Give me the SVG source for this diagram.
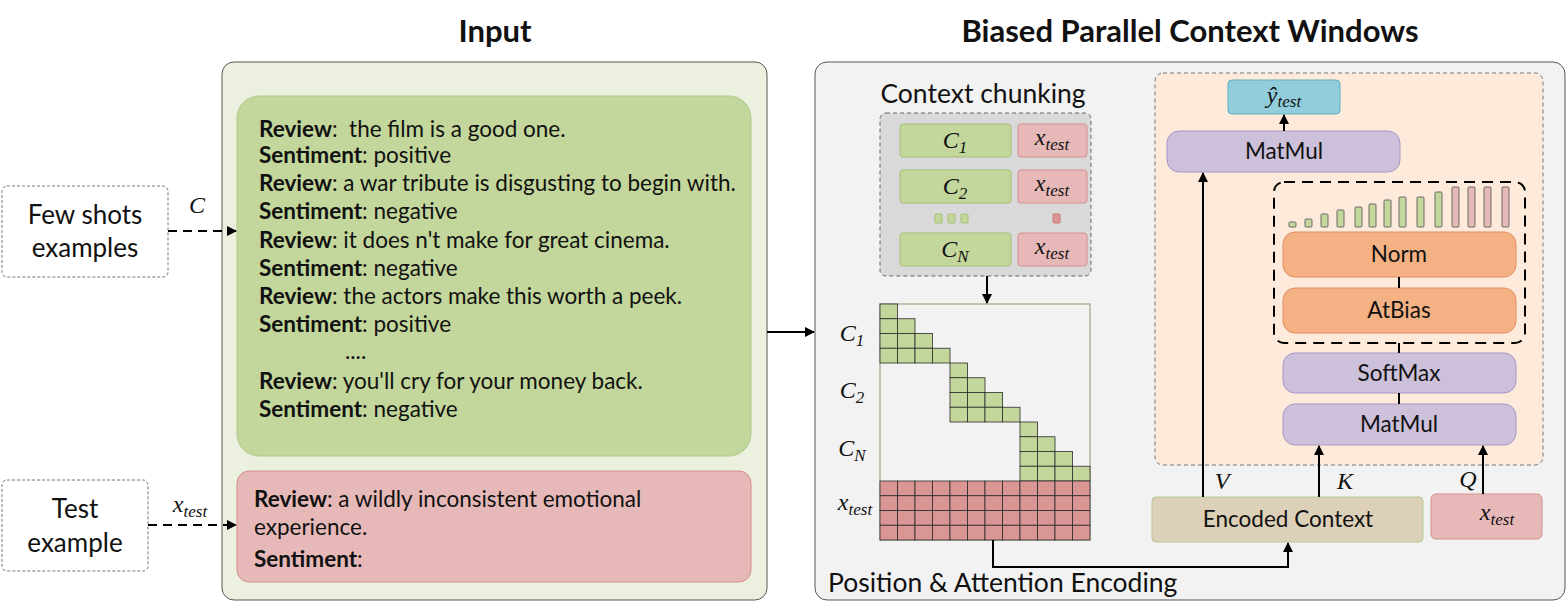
<svg xmlns="http://www.w3.org/2000/svg" xmlns:xlink="http://www.w3.org/1999/xlink" width="1568" height="616" viewBox="0 0 1568 616">
<style>
text{font-family:Lato,"Liberation Sans",sans-serif;fill:#111}
.t{font-size:22.5px}
.b{font-weight:bold}
.title{font-size:31px;font-weight:bold}
.m{font-family:"Liberation Serif","DejaVu Serif",serif;font-style:italic;font-size:24px}
.ms{font-size:17px}
.lbl{font-size:22.5px;text-anchor:middle}
.big{font-size:26px;text-anchor:middle}
.lbl2{font-size:26.5px}
.dbox{fill:#fff;stroke:#777;stroke-width:1;stroke-dasharray:3 2}
.green{fill:#c3d69b;stroke:#a5bf78;stroke-width:1}
.red{fill:#e6b9b8;stroke:#d48f8d;stroke-width:1}
.pur{fill:#ccc0da;stroke:#a997c4;stroke-width:1}
.org{fill:#f4b183;stroke:#e08f63;stroke-width:1}
.ln{stroke:#000;stroke-width:2;fill:none}
.dl{stroke:#000;stroke-width:2;fill:none;stroke-dasharray:9 6}
.gc{fill:#c3d69b;stroke:#2b2b2b;stroke-width:0.8}
.rc{fill:#d99694;stroke:#2b2b2b;stroke-width:0.8}
.gb{fill:#c3d69b;stroke:#6a6a6a;stroke-width:1}
.rb{fill:#e6b9b8;stroke:#6a6a6a;stroke-width:1}
</style>
<defs>
<marker id="ah" viewBox="0 0 10 10" refX="9" refY="5" markerWidth="5" markerHeight="5" orient="auto-start-reverse" markerUnits="strokeWidth">
<path d="M0,0 L10,5 L0,10 z" fill="#000"/>
</marker>
<rect id="g" class="gc" width="17.5" height="14.75"/>
<rect id="r" class="rc" width="17.5" height="14.75"/>
</defs>
<rect width="1568" height="616" fill="#fff"/>

<text class="title" x="495" y="42" text-anchor="middle">Input</text>
<text class="title" x="1190" y="42" text-anchor="middle">Biased Parallel Context Windows</text>

<g id="input-panel">
<rect x="222" y="62" width="545" height="538" rx="12" fill="#ebf1de" stroke="#555" stroke-width="1"/>
</g>

<g id="few-shots-box">
<rect x="237" y="96" width="514" height="360" rx="22" fill="#c3d69b" stroke="#b3c98c"/>
<text class="t" x="259" y="137"><tspan class="b">Review</tspan>:&#160; the film is a good one.</text>
<text class="t" x="259" y="163"><tspan class="b">Sentiment</tspan>: positive</text>
<text class="t" x="259" y="191"><tspan class="b">Review</tspan>: a war tribute is disgusting to begin with.</text>
<text class="t" x="259" y="219"><tspan class="b">Sentiment</tspan>: negative</text>
<text class="t" x="259" y="248"><tspan class="b">Review</tspan>: it does n't make for great cinema.</text>
<text class="t" x="259" y="276"><tspan class="b">Sentiment</tspan>: negative</text>
<text class="t" x="259" y="304"><tspan class="b">Review</tspan>: the actors make this worth a peek.</text>
<text class="t" x="259" y="332"><tspan class="b">Sentiment</tspan>: positive</text>
<text class="t" x="345" y="359">....</text>
<text class="t" x="259" y="389"><tspan class="b">Review</tspan>: you'll cry for your money back.</text>
<text class="t" x="259" y="417"><tspan class="b">Sentiment</tspan>: negative</text>
</g>

<g id="test-box">
<rect x="237" y="471" width="514" height="111" rx="12" fill="#e6b9b8" stroke="#d48f8d"/>
<text class="t" x="254" y="507"><tspan class="b">Review</tspan>: a wildly inconsistent emotional</text>
<text class="t" x="254" y="535">experience.</text>
<text class="t" x="254" y="567"><tspan class="b">Sentiment</tspan>:</text>
</g>

<g id="few-shots-examples">
<rect class="dbox" x="2" y="186" width="166" height="91" rx="5"/>
<text class="big" x="85" y="224">Few shots</text>
<text class="big" x="85" y="257">examples</text>
</g>

<g id="test-example">
<rect class="dbox" x="2" y="480" width="146" height="91" rx="5"/>
<text class="big" x="75" y="518">Test</text>
<text class="big" x="75" y="552">example</text>
</g>

<g id="context-panel">
<rect x="815" y="62" width="750" height="538" rx="12" fill="#f2f2f2" stroke="#555" stroke-width="1"/>
<text class="lbl2" x="983" y="103" text-anchor="middle">Context chunking</text>
<text class="lbl2" x="828" y="592">Position &amp; Attention Encoding</text>
</g>

<g id="chunking">
<rect x="880" y="113" width="211" height="163" rx="6" fill="#d9d9d9" stroke="#666" stroke-dasharray="4 3"/>
<rect class="green" x="900" y="124" width="111" height="33" rx="3"/>
<text class="m" x="955" y="148" text-anchor="middle">C<tspan class="ms" dy="5">1</tspan></text>
<rect class="red" x="1018" y="124" width="69" height="33" rx="3"/>
<text class="m" x="1052" y="145" text-anchor="middle">x<tspan class="ms" dy="5">test</tspan></text>
<rect class="green" x="900" y="170" width="111" height="33" rx="3"/>
<text class="m" x="955" y="194" text-anchor="middle">C<tspan class="ms" dy="5">2</tspan></text>
<rect class="red" x="1018" y="170" width="69" height="33" rx="3"/>
<text class="m" x="1052" y="191" text-anchor="middle">x<tspan class="ms" dy="5">test</tspan></text>
<rect class="green" x="935" y="214" width="7" height="9" rx="1"/>
<rect class="green" x="948" y="214" width="7" height="9" rx="1"/>
<rect class="green" x="961" y="214" width="7" height="9" rx="1"/>
<rect x="1053" y="214" width="7" height="9" rx="1" fill="#d99694" stroke="#c77"/>
<rect class="green" x="900" y="233" width="111" height="33" rx="3"/>
<text class="m" x="955" y="257" text-anchor="middle">C<tspan class="ms" dy="5">N</tspan></text>
<rect class="red" x="1018" y="233" width="69" height="33" rx="3"/>
<text class="m" x="1052" y="254" text-anchor="middle">x<tspan class="ms" dy="5">test</tspan></text>
</g>

<g id="mask-matrix">
<rect x="880" y="304" width="210" height="236" fill="none" stroke="#a9b596" stroke-width="1.5"/>
<use href="#g" x="880" y="304"/>
<use href="#g" x="880" y="318.75"/><use href="#g" x="897.5" y="318.75"/>
<use href="#g" x="880" y="333.5"/><use href="#g" x="897.5" y="333.5"/><use href="#g" x="915" y="333.5"/>
<use href="#g" x="880" y="348.25"/><use href="#g" x="897.5" y="348.25"/><use href="#g" x="915" y="348.25"/><use href="#g" x="932.5" y="348.25"/>
<use href="#g" x="950" y="363"/>
<use href="#g" x="950" y="377.75"/><use href="#g" x="967.5" y="377.75"/>
<use href="#g" x="950" y="392.5"/><use href="#g" x="967.5" y="392.5"/><use href="#g" x="985" y="392.5"/>
<use href="#g" x="950" y="407.25"/><use href="#g" x="967.5" y="407.25"/><use href="#g" x="985" y="407.25"/><use href="#g" x="1002.5" y="407.25"/>
<use href="#g" x="1020" y="422"/>
<use href="#g" x="1020" y="436.75"/><use href="#g" x="1037.5" y="436.75"/>
<use href="#g" x="1020" y="451.5"/><use href="#g" x="1037.5" y="451.5"/><use href="#g" x="1055" y="451.5"/>
<use href="#g" x="1020" y="466.25"/><use href="#g" x="1037.5" y="466.25"/><use href="#g" x="1055" y="466.25"/><use href="#g" x="1072.5" y="466.25"/>
<g id="red-rows">
<g id="rrow">
<use href="#r" x="880" y="481"/><use href="#r" x="897.5" y="481"/><use href="#r" x="915" y="481"/><use href="#r" x="932.5" y="481"/>
<use href="#r" x="950" y="481"/><use href="#r" x="967.5" y="481"/><use href="#r" x="985" y="481"/><use href="#r" x="1002.5" y="481"/>
<use href="#r" x="1020" y="481"/><use href="#r" x="1037.5" y="481"/><use href="#r" x="1055" y="481"/><use href="#r" x="1072.5" y="481"/>
</g>
<use href="#rrow" y="14.75"/>
<use href="#rrow" y="29.5"/>
<use href="#rrow" y="44.25"/>
</g>
<text class="m" x="852" y="341" text-anchor="middle">C<tspan class="ms" dy="5">1</tspan></text>
<text class="m" x="852" y="398" text-anchor="middle">C<tspan class="ms" dy="5">2</tspan></text>
<text class="m" x="852" y="456" text-anchor="middle">C<tspan class="ms" dy="5">N</tspan></text>
<text class="m" x="855" y="510" text-anchor="middle">x<tspan class="ms" dy="5">test</tspan></text>
</g>

<g id="attention-area">
<rect x="1155" y="73" width="388" height="392" rx="8" fill="#fdeada" stroke="#777" stroke-dasharray="4 3"/>
</g>

<g id="y-test">
<rect x="1228" y="80" width="112" height="34" rx="4" fill="#92cddc" stroke="#5fafc4"/>
<text class="m" x="1284" y="103" text-anchor="middle">ŷ<tspan class="ms" dy="4">test</tspan></text>
</g>

<g id="matmul-top">
<rect class="pur" x="1167" y="131" width="233" height="41" rx="12"/>
<text class="lbl" x="1284" y="159">MatMul</text>
</g>

<g id="bias-block">
<rect x="1274" y="182" width="251" height="161" rx="10" fill="none" stroke="#000" stroke-width="2" stroke-dasharray="11 7"/>
<rect class="gb" x="1289" y="222" width="7" height="5" rx="1"/>
<rect class="gb" x="1305" y="219" width="7" height="8" rx="1"/>
<rect class="gb" x="1321" y="214" width="7" height="13" rx="1"/>
<rect class="gb" x="1337" y="210" width="7" height="17" rx="1"/>
<rect class="gb" x="1355" y="207" width="7" height="20" rx="1"/>
<rect class="gb" x="1369" y="204" width="7" height="23" rx="1"/>
<rect class="gb" x="1384" y="200" width="7" height="27" rx="1"/>
<rect class="gb" x="1399" y="197" width="7" height="30" rx="1"/>
<rect class="gb" x="1417" y="197" width="7" height="30" rx="1"/>
<rect class="gb" x="1435" y="192" width="7" height="35" rx="1"/>
<rect class="rb" x="1452" y="187" width="7" height="40" rx="1"/>
<rect class="rb" x="1468" y="187" width="7" height="40" rx="1"/>
<rect class="rb" x="1484" y="187" width="7" height="40" rx="1"/>
<rect class="rb" x="1502" y="187" width="7" height="40" rx="1"/>
</g>

<g id="norm">
<rect class="org" x="1283" y="232" width="233" height="45" rx="12"/>
<text class="lbl" x="1399" y="262">Norm</text>
</g>
<g id="atbias">
<rect class="org" x="1283" y="288" width="233" height="45" rx="12"/>
<text class="lbl" x="1399" y="318">AtBias</text>
</g>
<g id="softmax">
<rect class="pur" x="1283" y="353" width="233" height="40" rx="12"/>
<text class="lbl" x="1399" y="381">SoftMax</text>
</g>
<g id="matmul-bottom">
<rect class="pur" x="1283" y="404" width="233" height="41" rx="12"/>
<text class="lbl" x="1399" y="432">MatMul</text>
</g>

<g id="encoded-context">
<rect x="1152" y="497" width="271" height="45" rx="4" fill="#ddd0b9" stroke="#b5c98f"/>
<text class="lbl" x="1288" y="527">Encoded Context</text>
</g>
<g id="x-test-q">
<rect class="red" x="1431" y="494" width="111" height="45" rx="5"/>
<text class="m" x="1497" y="520" text-anchor="middle">x<tspan class="ms" dy="5">test</tspan></text>
</g>

<g id="connectors">
<line class="dl" x1="168" y1="231" x2="236" y2="231" marker-end="url(#ah)"/>
<text class="m" x="197" y="213" text-anchor="middle">C</text>
<line class="dl" x1="148" y1="525" x2="236" y2="525" marker-end="url(#ah)"/>
<text class="m" x="190" y="512" text-anchor="middle">x<tspan class="ms" dy="5">test</tspan></text>
<line class="ln" x1="767" y1="332" x2="814" y2="332" marker-end="url(#ah)"/>
<line class="ln" x1="987" y1="276" x2="987" y2="303" marker-end="url(#ah)"/>
<polyline class="ln" points="993,540 993,567 1288,567 1288,543" marker-end="url(#ah)"/>
<line class="ln" x1="1203" y1="497" x2="1203" y2="173" marker-end="url(#ah)"/>
<text class="m" x="1222" y="489" text-anchor="middle">V</text>
<line class="ln" x1="1319" y1="497" x2="1319" y2="446" marker-end="url(#ah)"/>
<text class="m" x="1345" y="489" text-anchor="middle">K</text>
<line class="ln" x1="1483" y1="494" x2="1483" y2="446" marker-end="url(#ah)"/>
<text class="m" x="1468" y="487" text-anchor="middle">Q</text>
<line class="ln" x1="1284" y1="131" x2="1284" y2="115" marker-end="url(#ah)"/>
<line class="ln" x1="1399" y1="277" x2="1399" y2="288" stroke-width="1.5"/>
<line class="ln" x1="1399" y1="343" x2="1399" y2="353" stroke-width="1.5"/>
<line class="ln" x1="1399" y1="393" x2="1399" y2="404" stroke-width="1.5"/>
</g>
</svg>
